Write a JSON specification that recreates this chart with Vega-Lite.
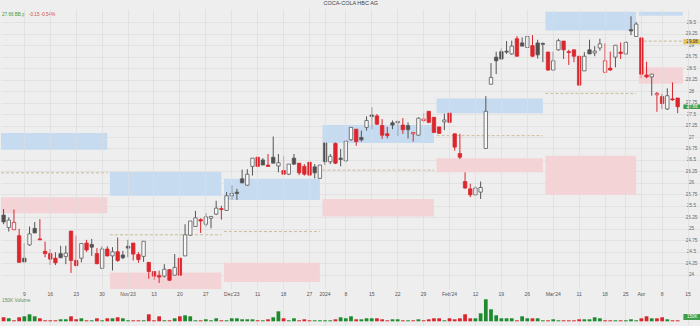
{
"$schema": "https://vega.github.io/schema/vega-lite/v6.json",
"background": "#eeeeee",
"padding": 0,
"spacing": 0,
"title": {"text": "COCA-COLA HBC AG", "fontSize": 5.5, "font": "Liberation Sans", "fontWeight": "normal", "color": "#444444", "anchor": "middle", "offset": 3},
"config": {"view": {"stroke": null, "fill": "#eeeeee"}, "font": "Liberation Sans",
"axisY": {"tickCount": 25, "format": ".4~g", "labelOverlap": false, "labelFlush": false, "labelFontSize": 4.6, "labelColor": "#666666", "labelAlign": "center", "labelBaseline": "middle", "labelPadding": 8, "ticks": false, "domain": false, "gridColor": "#dcdcdc", "gridWidth": 0.7}},
"datasets": {
"zones": [
{"month":"Oct","start":"2023-10-03","end":"2023-10-31","blueTop":27.09,"blueBot":26.72,"mid":26.22,"pinkTop":25.69,"pinkBot":25.34},
{"month":"Nov","start":"2023-11-01","end":"2023-11-30","blueTop":26.24,"blueBot":25.72,"mid":24.87,"pinkTop":24.05,"pinkBot":23.69},
{"month":"Dec","start":"2023-12-01","end":"2023-12-29","blueTop":26.09,"blueBot":25.63,"mid":24.94,"pinkTop":24.26,"pinkBot":23.84},
{"month":"Jan","start":"2024-01-02","end":"2024-01-31","blueTop":27.26,"blueBot":26.87,"mid":26.28,"pinkTop":25.65,"pinkBot":25.27},
{"month":"Feb","start":"2024-02-01","end":"2024-02-29","blueTop":27.84,"blueBot":27.52,"mid":27.03,"pinkTop":26.54,"pinkBot":26.23},
{"month":"Mar","start":"2024-03-01","end":"2024-03-27","blueTop":29.73,"blueBot":29.32,"mid":27.95,"pinkTop":26.59,"pinkBot":25.74},
{"month":"Apr","start":"2024-04-02","end":"2024-04-12","blueTop":29.73,"blueBot":29.64,"mid":29.09,"pinkTop":28.52,"pinkBot":28.16}
],
"candles": [
{"date":"2023-10-03","open":25.30,"high":25.43,"low":25.10,"close":25.15,"volume":600000},
{"date":"2023-10-04","open":25.03,"high":25.25,"low":24.94,"close":25.19,"volume":450000},
{"date":"2023-10-05","open":24.98,"high":25.42,"low":24.98,"close":25.14,"volume":150000},
{"date":"2023-10-06","open":24.85,"high":25.00,"low":24.26,"close":24.27,"volume":600000},
{"date":"2023-10-09","open":24.36,"high":24.69,"low":24.26,"close":24.28,"volume":750000},
{"date":"2023-10-10","open":24.65,"high":25.05,"low":24.63,"close":24.89,"volume":1050000},
{"date":"2023-10-11","open":25.01,"high":25.15,"low":24.91,"close":24.91,"volume":750000},
{"date":"2023-10-12","open":24.78,"high":25.21,"low":24.76,"close":24.76,"volume":450000},
{"date":"2023-10-13","open":24.51,"high":24.72,"low":24.38,"close":24.46,"volume":150000},
{"date":"2023-10-16","open":24.46,"high":24.56,"low":24.21,"close":24.34,"volume":150000},
{"date":"2023-10-17","open":24.36,"high":24.49,"low":24.21,"close":24.26,"volume":150000},
{"date":"2023-10-18","open":24.46,"high":24.63,"low":24.36,"close":24.37,"volume":300000},
{"date":"2023-10-19","open":24.40,"high":24.63,"low":24.23,"close":24.47,"volume":300000},
{"date":"2023-10-20","open":24.95,"high":24.95,"low":24.04,"close":24.31,"volume":750000},
{"date":"2023-10-23","open":24.31,"high":24.85,"low":24.18,"close":24.20,"volume":300000},
{"date":"2023-10-24","open":24.36,"high":24.68,"low":24.27,"close":24.68,"volume":450000},
{"date":"2023-10-25","open":24.69,"high":24.76,"low":24.50,"close":24.54,"volume":150000},
{"date":"2023-10-26","open":24.66,"high":24.78,"low":24.41,"close":24.60,"volume":150000},
{"date":"2023-10-27","open":24.46,"high":24.58,"low":24.23,"close":24.24,"volume":450000},
{"date":"2023-10-30","open":24.14,"high":24.62,"low":24.12,"close":24.56,"volume":150000},
{"date":"2023-10-31","open":24.56,"high":24.62,"low":24.40,"close":24.41,"volume":450000},
{"date":"2023-11-01","open":24.41,"high":24.60,"low":24.09,"close":24.50,"volume":450000},
{"date":"2023-11-02","open":24.50,"high":24.81,"low":24.28,"close":24.31,"volume":600000},
{"date":"2023-11-03","open":24.43,"high":24.52,"low":24.34,"close":24.37,"volume":450000},
{"date":"2023-11-06","open":24.62,"high":24.76,"low":24.38,"close":24.58,"volume":150000},
{"date":"2023-11-07","open":24.69,"high":24.69,"low":24.31,"close":24.45,"volume":150000},
{"date":"2023-11-08","open":24.44,"high":24.49,"low":24.26,"close":24.33,"volume":150000},
{"date":"2023-11-09","open":24.40,"high":24.73,"low":24.28,"close":24.73,"volume":150000},
{"date":"2023-11-10","open":24.27,"high":24.27,"low":23.91,"close":24.07,"volume":1050000},
{"date":"2023-11-13","open":24.07,"high":24.07,"low":23.89,"close":23.97,"volume":150000},
{"date":"2023-11-14","open":23.98,"high":24.09,"low":23.82,"close":23.95,"volume":750000},
{"date":"2023-11-15","open":23.97,"high":24.23,"low":23.94,"close":24.12,"volume":150000},
{"date":"2023-11-16","open":24.11,"high":24.11,"low":23.86,"close":23.88,"volume":150000},
{"date":"2023-11-17","open":23.99,"high":24.45,"low":23.99,"close":24.16,"volume":450000},
{"date":"2023-11-20","open":24.36,"high":24.36,"low":23.98,"close":23.99,"volume":750000},
{"date":"2023-11-21","open":24.41,"high":25.10,"low":24.41,"close":24.87,"volume":900000},
{"date":"2023-11-22","open":24.86,"high":25.17,"low":24.85,"close":25.17,"volume":750000},
{"date":"2023-11-23","open":25.05,"high":25.39,"low":25.05,"close":25.24,"volume":150000},
{"date":"2023-11-24","open":25.20,"high":25.23,"low":24.91,"close":25.17,"volume":150000},
{"date":"2023-11-27","open":25.10,"high":25.34,"low":25.05,"close":25.26,"volume":300000},
{"date":"2023-11-28","open":25.23,"high":25.27,"low":25.01,"close":25.27,"volume":150000},
{"date":"2023-11-29","open":25.32,"high":25.61,"low":25.30,"close":25.45,"volume":450000},
{"date":"2023-11-30","open":25.44,"high":25.50,"low":25.20,"close":25.42,"volume":150000},
{"date":"2023-12-01","open":25.40,"high":25.80,"low":25.40,"close":25.72,"volume":150000},
{"date":"2023-12-04","open":25.72,"high":25.95,"low":25.63,"close":25.77,"volume":450000},
{"date":"2023-12-05","open":25.80,"high":25.87,"low":25.63,"close":25.77,"volume":450000},
{"date":"2023-12-06","open":26.09,"high":26.29,"low":26.00,"close":26.00,"volume":300000},
{"date":"2023-12-07","open":25.95,"high":26.30,"low":25.94,"close":26.19,"volume":300000},
{"date":"2023-12-08","open":26.36,"high":26.54,"low":26.16,"close":26.54,"volume":300000},
{"date":"2023-12-11","open":26.56,"high":26.56,"low":26.34,"close":26.36,"volume":150000},
{"date":"2023-12-12","open":26.50,"high":26.54,"low":26.39,"close":26.39,"volume":150000},
{"date":"2023-12-13","open":26.39,"high":26.63,"low":26.35,"close":26.36,"volume":300000},
{"date":"2023-12-14","open":26.56,"high":27.01,"low":26.43,"close":26.43,"volume":600000},
{"date":"2023-12-15","open":26.37,"high":26.63,"low":26.23,"close":26.44,"volume":1500000},
{"date":"2023-12-18","open":26.27,"high":26.59,"low":26.19,"close":26.19,"volume":450000},
{"date":"2023-12-19","open":26.19,"high":26.41,"low":26.17,"close":26.41,"volume":150000},
{"date":"2023-12-20","open":26.54,"high":26.63,"low":26.39,"close":26.41,"volume":450000},
{"date":"2023-12-21","open":26.43,"high":26.43,"low":26.17,"close":26.22,"volume":150000},
{"date":"2023-12-22","open":26.36,"high":26.41,"low":26.16,"close":26.19,"volume":300000},
{"date":"2023-12-27","open":26.45,"high":26.45,"low":26.16,"close":26.17,"volume":150000},
{"date":"2023-12-28","open":26.35,"high":26.41,"low":26.10,"close":26.22,"volume":150000},
{"date":"2023-12-29","open":26.10,"high":26.39,"low":26.09,"close":26.39,"volume":150000},
{"date":"2024-01-02","open":26.87,"high":26.87,"low":26.39,"close":26.46,"volume":150000},
{"date":"2024-01-03","open":26.46,"high":26.63,"low":26.41,"close":26.58,"volume":150000},
{"date":"2024-01-04","open":26.86,"high":26.88,"low":26.41,"close":26.43,"volume":300000},
{"date":"2024-01-05","open":26.54,"high":26.74,"low":26.36,"close":26.51,"volume":600000},
{"date":"2024-01-08","open":26.48,"high":26.92,"low":26.46,"close":26.91,"volume":450000},
{"date":"2024-01-09","open":26.94,"high":27.21,"low":26.92,"close":27.21,"volume":750000},
{"date":"2024-01-10","open":27.17,"high":27.17,"low":26.81,"close":26.90,"volume":300000},
{"date":"2024-01-11","open":26.99,"high":27.14,"low":26.90,"close":26.94,"volume":300000},
{"date":"2024-01-12","open":27.21,"high":27.45,"low":27.14,"close":27.36,"volume":450000},
{"date":"2024-01-15","open":27.48,"high":27.65,"low":27.17,"close":27.45,"volume":450000},
{"date":"2024-01-16","open":27.46,"high":27.50,"low":27.26,"close":27.28,"volume":450000},
{"date":"2024-01-17","open":27.25,"high":27.39,"low":26.96,"close":27.04,"volume":300000},
{"date":"2024-01-18","open":27.07,"high":27.22,"low":26.97,"close":27.03,"volume":150000},
{"date":"2024-01-19","open":27.31,"high":27.36,"low":27.17,"close":27.26,"volume":300000},
{"date":"2024-01-22","open":27.31,"high":27.34,"low":27.02,"close":27.34,"volume":300000},
{"date":"2024-01-23","open":27.26,"high":27.41,"low":27.07,"close":27.16,"volume":150000},
{"date":"2024-01-24","open":27.25,"high":27.32,"low":26.97,"close":27.16,"volume":150000},
{"date":"2024-01-25","open":27.07,"high":27.10,"low":26.90,"close":27.10,"volume":150000},
{"date":"2024-01-26","open":27.04,"high":27.43,"low":27.03,"close":27.41,"volume":300000},
{"date":"2024-01-29","open":27.36,"high":27.52,"low":27.32,"close":27.39,"volume":150000},
{"date":"2024-01-30","open":27.56,"high":27.56,"low":27.30,"close":27.32,"volume":300000},
{"date":"2024-01-31","open":27.43,"high":27.43,"low":27.09,"close":27.10,"volume":450000},
{"date":"2024-02-01","open":27.22,"high":27.22,"low":27.07,"close":27.08,"volume":450000},
{"date":"2024-02-02","open":27.33,"high":27.51,"low":27.15,"close":27.37,"volume":150000},
{"date":"2024-02-05","open":27.52,"high":27.52,"low":27.30,"close":27.32,"volume":450000},
{"date":"2024-02-06","open":27.07,"high":27.07,"low":26.70,"close":26.78,"volume":300000},
{"date":"2024-02-07","open":26.64,"high":27.07,"low":26.52,"close":26.56,"volume":450000},
{"date":"2024-02-08","open":26.03,"high":26.23,"low":25.87,"close":25.89,"volume":1050000},
{"date":"2024-02-09","open":25.87,"high":25.98,"low":25.69,"close":25.74,"volume":450000},
{"date":"2024-02-12","open":25.74,"high":25.93,"low":25.72,"close":25.89,"volume":450000},
{"date":"2024-02-13","open":25.80,"high":26.03,"low":25.65,"close":25.90,"volume":1200000},
{"date":"2024-02-14","open":26.75,"high":27.89,"low":26.75,"close":27.56,"volume":3300000},
{"date":"2024-02-15","open":28.15,"high":28.61,"low":28.15,"close":28.30,"volume":1800000},
{"date":"2024-02-16","open":28.74,"high":28.86,"low":28.37,"close":28.66,"volume":900000},
{"date":"2024-02-19","open":28.86,"high":28.93,"low":28.68,"close":28.70,"volume":450000},
{"date":"2024-02-20","open":28.87,"high":29.09,"low":28.81,"close":28.85,"volume":450000},
{"date":"2024-02-21","open":28.81,"high":29.10,"low":28.79,"close":28.98,"volume":450000},
{"date":"2024-02-22","open":29.14,"high":29.20,"low":28.76,"close":28.76,"volume":150000},
{"date":"2024-02-23","open":29.05,"high":29.17,"low":28.98,"close":28.98,"volume":750000},
{"date":"2024-02-26","open":28.95,"high":29.19,"low":28.95,"close":29.19,"volume":450000},
{"date":"2024-02-27","open":28.99,"high":29.22,"low":28.74,"close":28.76,"volume":450000},
{"date":"2024-02-28","open":29.05,"high":29.12,"low":28.71,"close":28.79,"volume":450000},
{"date":"2024-02-29","open":29.04,"high":29.06,"low":28.63,"close":29.02,"volume":150000},
{"date":"2024-03-01","open":28.85,"high":28.86,"low":28.44,"close":28.46,"volume":150000},
{"date":"2024-03-04","open":28.46,"high":28.86,"low":28.44,"close":28.66,"volume":300000},
{"date":"2024-03-05","open":28.90,"high":29.14,"low":28.88,"close":29.10,"volume":150000},
{"date":"2024-03-06","open":29.09,"high":29.09,"low":28.70,"close":28.90,"volume":150000},
{"date":"2024-03-07","open":28.86,"high":28.90,"low":28.57,"close":28.84,"volume":150000},
{"date":"2024-03-08","open":28.90,"high":28.90,"low":28.63,"close":28.76,"volume":150000},
{"date":"2024-03-11","open":28.76,"high":28.76,"low":28.13,"close":28.13,"volume":300000},
{"date":"2024-03-12","open":28.44,"high":28.85,"low":28.44,"close":28.76,"volume":300000},
{"date":"2024-03-13","open":28.90,"high":29.12,"low":28.81,"close":28.81,"volume":300000},
{"date":"2024-03-14","open":28.83,"high":28.98,"low":28.76,"close":28.87,"volume":600000},
{"date":"2024-03-15","open":28.94,"high":29.14,"low":28.88,"close":29.03,"volume":450000},
{"date":"2024-03-18","open":28.41,"high":29.04,"low":28.41,"close":28.66,"volume":150000},
{"date":"2024-03-19","open":28.50,"high":28.86,"low":28.44,"close":28.46,"volume":150000},
{"date":"2024-03-20","open":28.74,"high":29.00,"low":28.52,"close":29.00,"volume":150000},
{"date":"2024-03-21","open":28.85,"high":29.06,"low":28.70,"close":28.82,"volume":150000},
{"date":"2024-03-25","open":28.81,"high":29.09,"low":28.79,"close":29.06,"volume":150000},
{"date":"2024-03-26","open":29.34,"high":29.63,"low":29.22,"close":29.31,"volume":300000},
{"date":"2024-03-27","open":29.19,"high":29.50,"low":29.19,"close":29.46,"volume":150000},
{"date":"2024-04-02","open":29.16,"high":29.16,"low":28.28,"close":28.37,"volume":450000},
{"date":"2024-04-03","open":28.35,"high":28.64,"low":28.28,"close":28.31,"volume":750000},
{"date":"2024-04-04","open":28.31,"high":28.37,"low":27.90,"close":28.37,"volume":450000},
{"date":"2024-04-05","open":27.92,"high":27.98,"low":27.55,"close":27.95,"volume":450000},
{"date":"2024-04-08","open":27.88,"high":27.94,"low":27.61,"close":27.73,"volume":600000},
{"date":"2024-04-09","open":27.61,"high":28.06,"low":27.59,"close":27.90,"volume":300000},
{"date":"2024-04-10","open":27.83,"high":28.19,"low":27.79,"close":27.81,"volume":150000},
{"date":"2024-04-11","open":27.85,"high":27.85,"low":27.52,"close":27.66,"volume":150000}
]
},
"vconcat": [
{
"width": 700,
"height": 280,
"layer": [
{
"data": {"name": "zones"},
"mark": {"type": "rect", "color": "#c6dbf0"},
"encoding": {
"x": {"field": "start", "type": "ordinal", "bandPosition": 0,
"scale": {"type": "band", "paddingInner": 0, "paddingOuter": 0, "domain": ["2023-10-03","2023-10-04","2023-10-05","2023-10-06","2023-10-09","2023-10-10","2023-10-11","2023-10-12","2023-10-13","2023-10-16","2023-10-17","2023-10-18","2023-10-19","2023-10-20","2023-10-23","2023-10-24","2023-10-25","2023-10-26","2023-10-27","2023-10-30","2023-10-31","2023-11-01","2023-11-02","2023-11-03","2023-11-06","2023-11-07","2023-11-08","2023-11-09","2023-11-10","2023-11-13","2023-11-14","2023-11-15","2023-11-16","2023-11-17","2023-11-20","2023-11-21","2023-11-22","2023-11-23","2023-11-24","2023-11-27","2023-11-28","2023-11-29","2023-11-30","2023-12-01","2023-12-04","2023-12-05","2023-12-06","2023-12-07","2023-12-08","2023-12-11","2023-12-12","2023-12-13","2023-12-14","2023-12-15","2023-12-18","2023-12-19","2023-12-20","2023-12-21","2023-12-22","2023-12-27","2023-12-28","2023-12-29","2024-01-02","2024-01-03","2024-01-04","2024-01-05","2024-01-08","2024-01-09","2024-01-10","2024-01-11","2024-01-12","2024-01-15","2024-01-16","2024-01-17","2024-01-18","2024-01-19","2024-01-22","2024-01-23","2024-01-24","2024-01-25","2024-01-26","2024-01-29","2024-01-30","2024-01-31","2024-02-01","2024-02-02","2024-02-05","2024-02-06","2024-02-07","2024-02-08","2024-02-09","2024-02-12","2024-02-13","2024-02-14","2024-02-15","2024-02-16","2024-02-19","2024-02-20","2024-02-21","2024-02-22","2024-02-23","2024-02-26","2024-02-27","2024-02-28","2024-02-29","2024-03-01","2024-03-04","2024-03-05","2024-03-06","2024-03-07","2024-03-08","2024-03-11","2024-03-12","2024-03-13","2024-03-14","2024-03-15","2024-03-18","2024-03-19","2024-03-20","2024-03-21","2024-03-25","2024-03-26","2024-03-27","2024-04-02","2024-04-03","2024-04-04","2024-04-05","2024-04-08","2024-04-09","2024-04-10","2024-04-11","2024-04-12","2024-04-15","2024-04-16","2024-04-17"]},
"axis": {"values": ["2023-10-09","2023-10-16","2023-10-23","2023-10-30","2023-11-06","2023-11-13","2023-11-20","2023-11-27","2023-12-04","2023-12-11","2023-12-18","2023-12-27","2024-01-02","2024-01-08","2024-01-15","2024-01-22","2024-01-29","2024-02-05","2024-02-12","2024-02-19","2024-02-26","2024-03-04","2024-03-11","2024-03-18","2024-03-25","2024-04-02","2024-04-08","2024-04-15"],
"labelExpr": "datum.value == '2023-11-06' ? \"Nov'23\" : datum.value == '2023-12-04' ? \"Dec'23\" : datum.value == '2024-01-02' ? '2024' : datum.value == '2024-02-05' ? \"Feb'24\" : datum.value == '2024-03-04' ? \"Mar'24\" : datum.value == '2024-04-02' ? 'Apr' : toNumber(substring(datum.value, 8, 10))",
"bandPosition": 0.5, "grid": true, "gridColor": "#dcdcdc", "gridWidth": 0.7, "ticks": false, "domain": false, "labelFontSize": 5, "labelColor": "#555555", "labelPadding": 2, "labelAngle": 0, "labelOverlap": false, "labelFlush": false, "title": null}},
"x2": {"field": "end", "bandPosition": 0.5},
"y": {"field": "blueTop", "type": "quantitative",
"scale": {"domain": [23.689, 29.789], "nice": false, "zero": false},
"axis": {"orient": "right", "offset": -18, "values": [24,24.25,24.5,24.75,25,25.25,25.5,25.75,26,26.25,26.5,26.75,27,27.25,27.5,27.75,28,28.25,28.5,28.75,29,29.25,29.5], "tickCount": 25, "format": ".4~g", "grid": true, "labelOverlap": false, "title": null}},
"y2": {"field": "blueBot"}
}
},
{
"data": {"name": "zones"},
"mark": {"type": "rect", "color": "#f4d3d7"},
"encoding": {
"x": {"field": "start", "type": "ordinal", "bandPosition": 0},
"x2": {"field": "end", "bandPosition": 0.5},
"y": {"field": "pinkTop", "type": "quantitative"},
"y2": {"field": "pinkBot"}
}
},
{
"data": {"name": "zones"},
"mark": {"type": "rule", "color": "#bfae84", "strokeDash": [3, 2], "strokeWidth": 0.8},
"encoding": {
"x": {"field": "start", "type": "ordinal", "bandPosition": 0},
"x2": {"field": "end", "bandPosition": 0.5},
"y": {"field": "mid", "type": "quantitative"}
}
},
{
"data": {"name": "candles"},
"transform": [{"window": [{"op": "lag", "field": "close", "as": "prev"}], "sort": [{"field": "date"}]}],
"layer": [
{
"mark": {"type": "rule", "strokeWidth": 1},
"encoding": {
"x": {"field": "date", "type": "ordinal"},
"y": {"field": "low", "type": "quantitative"},
"y2": {"field": "high"},
"color": {"condition": {"test": "datum.prev != null && datum.close < datum.prev", "value": "#d8262c"}, "value": "#555555"}
}
},
{
"mark": {"type": "bar", "width": {"band": 0.66}, "strokeWidth": 0.8},
"encoding": {
"x": {"field": "date", "type": "ordinal"},
"y": {"field": "open", "type": "quantitative"},
"y2": {"field": "close"},
"fill": {"condition": [{"test": "datum.close >= datum.open", "value": "#f9f9f9"}, {"test": "datum.prev == null || datum.close >= datum.prev", "value": "#4f4f4f"}], "value": "#dc262d"},
"stroke": {"condition": {"test": "datum.prev != null && datum.close < datum.prev", "value": "#dc262d"}, "value": "#5a5a5a"}
}
}
]
},
{
"data": {"values": [{"a": "2024-04-12", "b": "2024-04-17", "lo": 29.02, "hi": 29.13}]},
"mark": {"type": "rect", "color": "#e3c35a"},
"encoding": {
"x": {"field": "a", "type": "ordinal", "bandPosition": 0.6},
"x2": {"field": "b", "bandPosition": 1},
"y": {"field": "lo", "type": "quantitative"},
"y2": {"field": "hi"}
}
},
{
"data": {"values": [{"a": "2024-04-16", "p": 29.075, "t": "29.08"}]},
"mark": {"type": "text", "fontSize": 4.5, "color": "#333333", "align": "center", "baseline": "middle"},
"encoding": {
"x": {"field": "a", "type": "ordinal", "bandPosition": 0.3},
"y": {"field": "p", "type": "quantitative"},
"text": {"field": "t"}
}
},
{
"data": {"values": [{"a": "2024-04-12", "b": "2024-04-17", "lo": 27.61, "hi": 27.71}]},
"mark": {"type": "rect", "color": "#3f9e4a"},
"encoding": {
"x": {"field": "a", "type": "ordinal", "bandPosition": 0.6},
"x2": {"field": "b", "bandPosition": 1},
"y": {"field": "lo", "type": "quantitative"},
"y2": {"field": "hi"}
}
},
{
"data": {"values": [{"a": "2024-04-16", "p": 27.66, "t": "27.66"}]},
"mark": {"type": "text", "fontSize": 4.5, "color": "#ffffff", "align": "center", "baseline": "middle"},
"encoding": {
"x": {"field": "a", "type": "ordinal", "bandPosition": 0.3},
"y": {"field": "p", "type": "quantitative"},
"text": {"field": "t"}
}
},
{
"data": {"values": [{"a": "2023-10-03", "p": 29.66, "t": "27.66 BB.p"}]},
"mark": {"type": "text", "fontSize": 4.6, "color": "#3f9a3f", "align": "left", "baseline": "middle", "dx": 1},
"encoding": {
"x": {"field": "a", "type": "ordinal", "bandPosition": 0},
"y": {"field": "p", "type": "quantitative"},
"text": {"field": "t"}
}
},
{
"data": {"values": [{"a": "2023-10-03", "p": 29.66, "t": "-0.15 -0.54%"}]},
"mark": {"type": "text", "fontSize": 4.6, "color": "#d84848", "align": "left", "baseline": "middle", "dx": 28},
"encoding": {
"x": {"field": "a", "type": "ordinal", "bandPosition": 0},
"y": {"field": "p", "type": "quantitative"},
"text": {"field": "t"}
}
}
]
},
{
"width": 700,
"height": 30,
"layer": [
{
"data": {"name": "candles"},
"transform": [{"window": [{"op": "lag", "field": "close", "as": "prev"}], "sort": [{"field": "date"}]}],
"mark": {"type": "bar", "width": {"band": 0.72}},
"encoding": {
"x": {"field": "date", "type": "ordinal",
"scale": {"type": "band", "paddingInner": 0, "paddingOuter": 0, "domain": ["2023-10-03","2023-10-04","2023-10-05","2023-10-06","2023-10-09","2023-10-10","2023-10-11","2023-10-12","2023-10-13","2023-10-16","2023-10-17","2023-10-18","2023-10-19","2023-10-20","2023-10-23","2023-10-24","2023-10-25","2023-10-26","2023-10-27","2023-10-30","2023-10-31","2023-11-01","2023-11-02","2023-11-03","2023-11-06","2023-11-07","2023-11-08","2023-11-09","2023-11-10","2023-11-13","2023-11-14","2023-11-15","2023-11-16","2023-11-17","2023-11-20","2023-11-21","2023-11-22","2023-11-23","2023-11-24","2023-11-27","2023-11-28","2023-11-29","2023-11-30","2023-12-01","2023-12-04","2023-12-05","2023-12-06","2023-12-07","2023-12-08","2023-12-11","2023-12-12","2023-12-13","2023-12-14","2023-12-15","2023-12-18","2023-12-19","2023-12-20","2023-12-21","2023-12-22","2023-12-27","2023-12-28","2023-12-29","2024-01-02","2024-01-03","2024-01-04","2024-01-05","2024-01-08","2024-01-09","2024-01-10","2024-01-11","2024-01-12","2024-01-15","2024-01-16","2024-01-17","2024-01-18","2024-01-19","2024-01-22","2024-01-23","2024-01-24","2024-01-25","2024-01-26","2024-01-29","2024-01-30","2024-01-31","2024-02-01","2024-02-02","2024-02-05","2024-02-06","2024-02-07","2024-02-08","2024-02-09","2024-02-12","2024-02-13","2024-02-14","2024-02-15","2024-02-16","2024-02-19","2024-02-20","2024-02-21","2024-02-22","2024-02-23","2024-02-26","2024-02-27","2024-02-28","2024-02-29","2024-03-01","2024-03-04","2024-03-05","2024-03-06","2024-03-07","2024-03-08","2024-03-11","2024-03-12","2024-03-13","2024-03-14","2024-03-15","2024-03-18","2024-03-19","2024-03-20","2024-03-21","2024-03-25","2024-03-26","2024-03-27","2024-04-02","2024-04-03","2024-04-04","2024-04-05","2024-04-08","2024-04-09","2024-04-10","2024-04-11","2024-04-12","2024-04-15","2024-04-16","2024-04-17"]},
"axis": {"values": ["2023-10-09","2023-10-16","2023-10-23","2023-10-30","2023-11-06","2023-11-13","2023-11-20","2023-11-27","2023-12-04","2023-12-11","2023-12-18","2023-12-27","2024-01-02","2024-01-08","2024-01-15","2024-01-22","2024-01-29","2024-02-05","2024-02-12","2024-02-19","2024-02-26","2024-03-04","2024-03-11","2024-03-18","2024-03-25","2024-04-02","2024-04-08","2024-04-15"], "bandPosition": 0.5, "grid": true, "gridColor": "#dcdcdc", "gridWidth": 0.7, "labels": false, "ticks": false, "domain": false, "title": null, "minExtent": 0, "maxExtent": 0}},
"y": {"field": "volume", "type": "quantitative", "scale": {"domain": [-705000, 3795000], "nice": false, "zero": false}, "axis": null},
"color": {"condition": {"test": "datum.prev == null || datum.close < datum.prev", "value": "#d8262c"}, "value": "#1e8a2e"}
}
},
{
"mark": {"type": "rule", "color": "#e06464", "strokeDash": [3, 2], "strokeWidth": 1},
"encoding": {"y": {"datum": -480000}}
},
{
"data": {"values": [{"a": "2024-04-12", "b": "2024-04-17", "lo": 195000, "hi": 1095000}]},
"mark": {"type": "rect", "color": "#3f9e4a"},
"encoding": {
"x": {"field": "a", "type": "ordinal", "bandPosition": 0.6},
"x2": {"field": "b", "bandPosition": 1},
"y": {"field": "lo", "type": "quantitative"},
"y2": {"field": "hi"}
}
},
{
"data": {"values": [{"a": "2024-04-16", "p": 645000, "t": "150K"}]},
"mark": {"type": "text", "fontSize": 4.5, "color": "#ffffff", "align": "center", "baseline": "middle"},
"encoding": {
"x": {"field": "a", "type": "ordinal", "bandPosition": 0.3},
"y": {"field": "p", "type": "quantitative"},
"text": {"field": "t"}
}
},
{
"data": {"values": [{"a": "2023-10-03", "p": 3090000, "t": "150K Volume"}]},
"mark": {"type": "text", "fontSize": 4.8, "color": "#5f8f5f", "align": "left", "baseline": "middle", "dx": 1},
"encoding": {
"x": {"field": "a", "type": "ordinal", "bandPosition": 0},
"y": {"field": "p", "type": "quantitative"},
"text": {"field": "t"}
}
}
]
}
]
}
